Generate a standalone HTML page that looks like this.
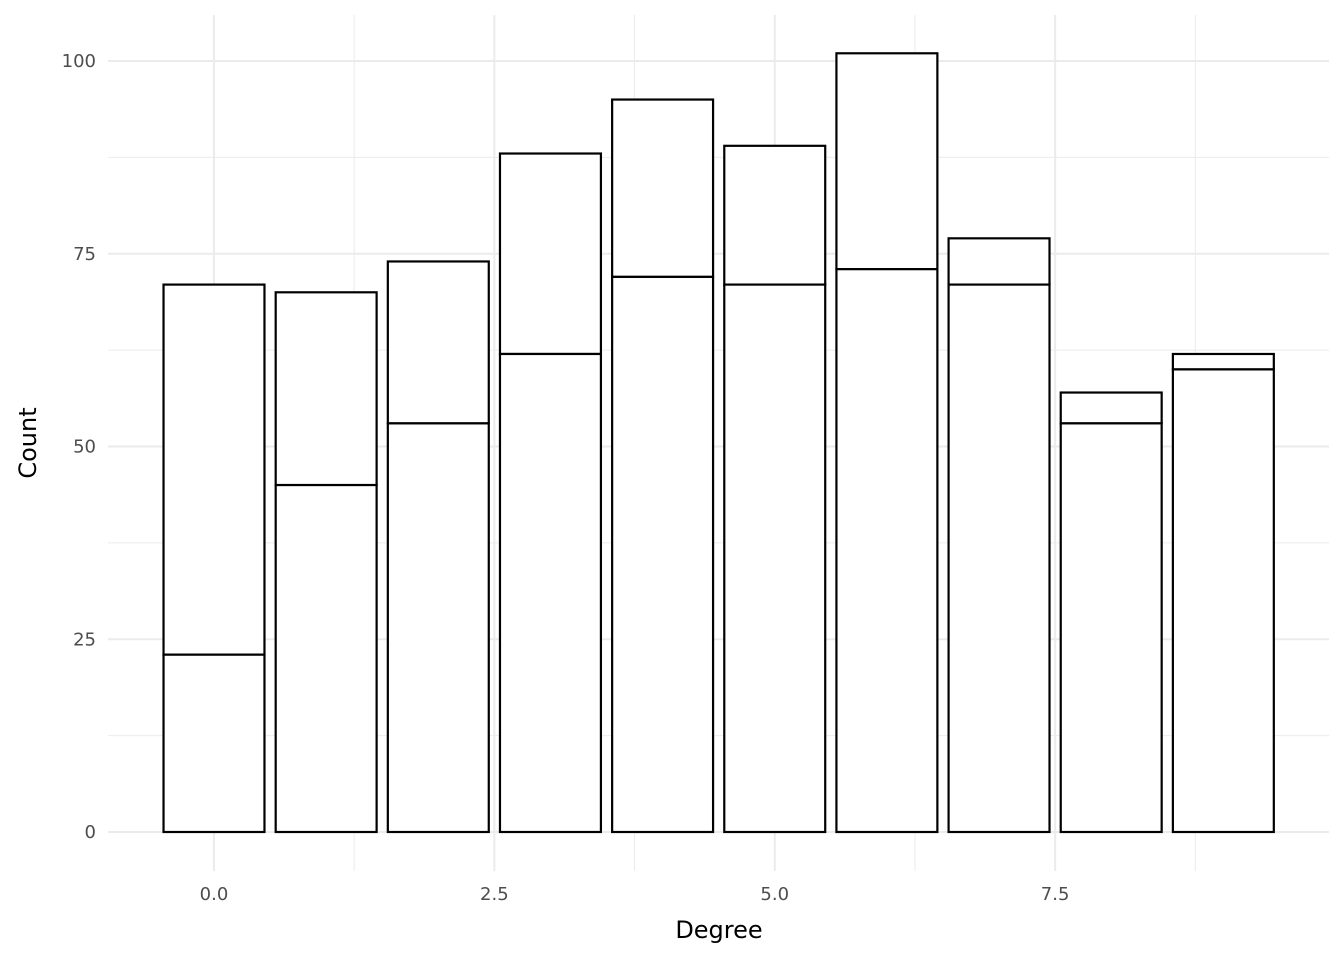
<!DOCTYPE html>
<html><head><meta charset="utf-8"><style>
body{margin:0;background:#fff}
svg{display:block;font-family:"DejaVu Sans","Liberation Sans",sans-serif}
</style></head><body>
<svg id="chart" width="1344" height="960">
<g id="grid"></g>
<g id="bars"></g>
<g id="ticks"></g>
<text x="719" y="938" text-anchor="middle" font-size="24" fill="#000">Degree</text>
<text x="36" y="443" text-anchor="middle" font-size="24" fill="#000" transform="rotate(-90 36 443)">Count</text>
</svg>
<script>
const categories=[0,1,2,3,4,5,6,7,8,9];
const lowerValues=[23,45,53,62,72,71,73,71,53,60];
const totalValues=[71,70,74,88,95,89,101,77,57,62];
const xTicks=[0,2.5,5,7.5];
const xTickLabels=["0.0","2.5","5.0","7.5"];
const yTicks=[0,25,50,75,100];
const yTickLabels=["0","25","50","75","100"];
const NS="http://www.w3.org/2000/svg";
const xs=v=>214+(v)*112.15;
const ys=v=>832-v*7.71;
const X0=108,X1=1329,Y0=871,Y1=15;
function mk(tag,attrs,parent){const e=document.createElementNS(NS,tag);for(const k in attrs)e.setAttribute(k,attrs[k]);parent.appendChild(e);return e;}
const grid=document.getElementById('grid');
for(let v=-1.25;v<=10;v+=2.5){if(xs(v)>X0&&xs(v)<X1){const l=mk('line',{x1:xs(v),x2:xs(v),y1:Y1,y2:Y0,stroke:'#ebebeb','stroke-width':1},grid);

}}
for(let v=12.5;v<105;v+=25){const l=mk('line',{x1:X0,x2:X1,y1:ys(v),y2:ys(v),stroke:'#ebebeb','stroke-width':1},grid);

}
xTicks.forEach(v=>{const l=mk('line',{x1:xs(v),x2:xs(v),y1:Y1,y2:Y0,stroke:'#ebebeb','stroke-width':2},grid);

});
yTicks.forEach(v=>{const l=mk('line',{x1:X0,x2:X1,y1:ys(v),y2:ys(v),stroke:'#ebebeb','stroke-width':2},grid);

});
const bars=document.getElementById('bars');
categories.forEach((c,i)=>{
const x=xs(c-0.45),w=xs(c+0.45)-x;
const top=mk('rect',{x:x,y:ys(totalValues[i]),width:w,height:ys(lowerValues[i])-ys(totalValues[i]),fill:'#fff',stroke:'#000','stroke-width':2.2},bars);


const low=mk('rect',{x:x,y:ys(lowerValues[i]),width:w,height:ys(0)-ys(lowerValues[i]),fill:'#fff',stroke:'#000','stroke-width':2.2},bars);


});
const ticks=document.getElementById('ticks');
xTicks.forEach((v,i)=>{const t=mk('text',{x:xs(v),y:900,'text-anchor':'middle','font-size':18,fill:'#4d4d4d'},ticks);t.textContent=xTickLabels[i];

});
yTicks.forEach((v,i)=>{const t=mk('text',{x:96,y:ys(v)+6,'text-anchor':'end','font-size':18,fill:'#4d4d4d'},ticks);t.textContent=yTickLabels[i];

});
</script>
</body></html>
